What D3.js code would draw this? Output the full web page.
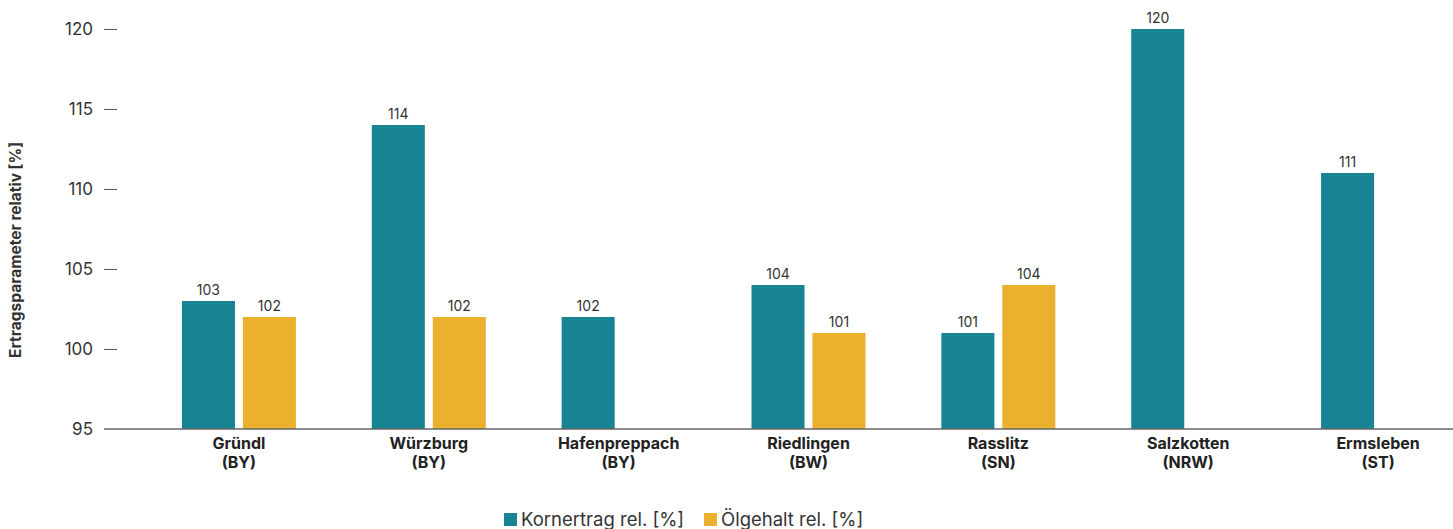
<!DOCTYPE html>
<html>
<head>
<meta charset="utf-8">
<script src="https://cdn.jsdelivr.net/npm/d3@7"></script>
<style>
  body { margin: 0; background: #fff; }
  svg { display: block; font-family: Inter, "Noto Sans", sans-serif; }
</style>
</head>
<body>
<div id="chart"></div>
<script>
var categories = ["Gründl", "Würzburg", "Hafenpreppach", "Riedlingen", "Rasslitz", "Salzkotten", "Ermsleben"];
var regions = ["(BY)", "(BY)", "(BY)", "(BW)", "(SN)", "(NRW)", "(ST)"];
var kornertrag = [103, 114, 102, 104, 101, 120, 111];
var oelgehalt = [102, 102, null, 101, 104, null, null];
var yTicks = [95, 100, 105, 110, 115, 120];
var seriesNames = ["Kornertrag rel. [%]", "Ölgehalt rel. [%]"];
var colors = ["#188393", "#ebb02d"];

var width = 1453, height = 529;

var svg = d3.select("#chart")
    .append("svg")
        .attr("width", width)
        .attr("height", height);

// scales
var x = d3.scaleBand()
    .domain(categories)
    .range([144, 1473])
    .padding(0);

var x1 = d3.scaleBand()
    .domain([0, 1])
    .range([-57, 57])
    .paddingInner(0.13);

var y = d3.scaleLinear()
    .domain([95, 120])
    .range([429, 29]);

// y axis
var yAxisGroup = svg.append("g")
    .attr("transform", "translate(117,0)")
    .call(d3.axisLeft(y).tickValues(yTicks).tickSize(13).tickPadding(11));
yAxisGroup.select(".domain").remove();
yAxisGroup.selectAll(".tick line").attr("stroke", "#555");
yAxisGroup.selectAll(".tick text")
    .attr("font-size", "17px")
    .attr("fill", "#333")
    .attr("font-family", "Inter, sans-serif");
yAxisGroup.selectAll(".tick").filter(function(d){ return d === 95; }).select("line").remove();

// y label
svg.append("text")
    .attr("transform", "translate(21," + 250 + ") rotate(-90)")
    .attr("text-anchor", "middle")
    .attr("font-size", "15.5px")
    .attr("font-weight", "bold")
    .attr("fill", "#333")
    .text("Ertragsparameter relativ [%]");

// bars
var rows = [];
categories.forEach(function(c, i) {
    rows.push({ cat: c, s: 0, v: kornertrag[i] });
    if (oelgehalt[i] != null) rows.push({ cat: c, s: 1, v: oelgehalt[i] });
});

var groupCenter = function(c) { return x(c) + x.bandwidth() / 2; };

svg.selectAll("rect.bar")
    .data(rows)
    .enter().append("rect")
        .attr("class", "bar")
        .attr("x", function(d){ return groupCenter(d.cat) + x1(d.s); })
        .attr("y", function(d){ return y(d.v); })
        .attr("width", x1.bandwidth())
        .attr("height", function(d){ return y(95) - y(d.v); })
        .attr("fill", function(d){ return colors[d.s]; });

svg.selectAll("text.val")
    .data(rows)
    .enter().append("text")
        .attr("class", "val")
        .attr("x", function(d){ return groupCenter(d.cat) + x1(d.s) + x1.bandwidth() / 2; })
        .attr("y", function(d){ return y(d.v) - 6; })
        .attr("text-anchor", "middle")
        .attr("font-size", "14px")
        .attr("fill", "#333")
        .text(function(d){ return d.v; });

// baseline
svg.append("line")
    .attr("x1", 104)
    .attr("x2", width)
    .attr("y1", y(95))
    .attr("y2", y(95))
    .attr("stroke", "#666")
    .attr("stroke-width", 1.5);

// category labels
var catLabels = svg.selectAll("text.cat")
    .data(categories)
    .enter().append("text")
        .attr("class", "cat")
        .attr("text-anchor", "middle")
        .attr("font-size", "16px")
        .attr("font-weight", "bold")
        .attr("fill", "#222");
catLabels.append("tspan")
    .attr("x", function(d){ return groupCenter(d); })
    .attr("y", 449)
    .text(function(d){ return d; });
catLabels.append("tspan")
    .attr("x", function(d){ return groupCenter(d); })
    .attr("y", 468)
    .text(function(d, i){ return regions[i]; });

// legend
var legendX = [504, 704];
var legend = svg.selectAll("g.legend")
    .data(seriesNames)
    .enter().append("g")
        .attr("class", "legend")
        .attr("transform", function(d, i){ return "translate(" + legendX[i] + ",513)"; });
legend.append("rect")
    .attr("width", 13)
    .attr("height", 13)
    .attr("fill", function(d, i){ return colors[i]; });
legend.append("text")
    .attr("x", 17)
    .attr("y", 13)
    .attr("font-size", "18.5px")
    .attr("fill", "#333")
    .text(function(d){ return d; });
</script>
</body>
</html>
